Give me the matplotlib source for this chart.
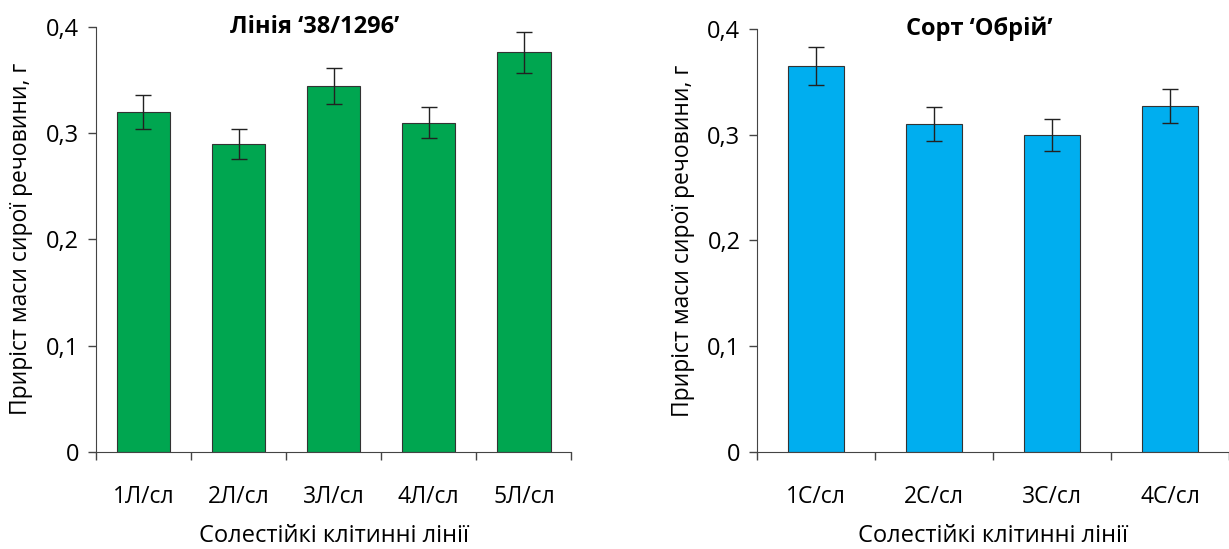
import matplotlib.pyplot as plt
import numpy as np

plt.rcParams['font.family'] = ['Open Sans', 'DejaVu Sans']

# data
lines_l = ['1Л/сл', '2Л/сл', '3Л/сл', '4Л/сл', '5Л/сл']
mass_l = [0.320, 0.290, 0.344, 0.310, 0.376]
err_l = [0.016, 0.014, 0.017, 0.015, 0.019]

lines_s = ['1С/сл', '2С/сл', '3С/сл', '4С/сл']
mass_s = [0.365, 0.310, 0.300, 0.327]
err_s = [0.018, 0.016, 0.015, 0.016]

yticks = [0, 0.1, 0.2, 0.3, 0.4]
ytick_labels = ['0', '0,1', '0,2', '0,3', '0,4']

fig = plt.figure(figsize=(12.29, 5.49), dpi=100)


def draw(ax, labels, vals, errs, color, width, title, title_x):
    x = np.arange(len(labels))
    ax.bar(x, vals, width=width, color=color, edgecolor='#333333', linewidth=0.8, zorder=2)
    ax.errorbar(x, vals, yerr=errs, fmt='none', ecolor='#222222', elinewidth=1,
                capsize=6, capthick=1, zorder=3)
    ax.set_xlim(-0.5, len(labels) - 0.5)
    ax.set_ylim(0, 0.4)
    ax.set_yticks(yticks)
    ax.set_yticklabels(ytick_labels, fontsize=17)
    ax.set_xticks(x)
    ax.set_xticklabels(labels, fontsize=16.5)
    ax.tick_params(axis='x', length=0, pad=24)
    ax.set_xticks(np.arange(len(labels) + 1) - 0.5, minor=True)
    ax.tick_params(axis='x', which='minor', length=6, width=1, color='#444444')
    ax.tick_params(axis='y', length=6, width=1, color='#444444', pad=6)
    for s in ['top', 'right']:
        ax.spines[s].set_visible(False)
    for s in ['left', 'bottom']:
        ax.spines[s].set_color('#444444')
    ax.set_ylabel('Приріст маси сирої речовини, г', fontsize=16.5, labelpad=9)
    ax.set_xlabel('Солестійкі клітинні лінії', fontsize=17, labelpad=11)
    ax.text(title_x, 1.0, title, transform=ax.transAxes, ha='center', va='center',
            fontsize=17, fontweight='bold')


ax1 = fig.add_axes([0.078, 0.177, 0.387, 0.774])
draw(ax1, lines_l, mass_l, err_l, '#00A650', 0.56, 'Лінія ‘38/1296’', 0.46)

ax2 = fig.add_axes([0.616, 0.177, 0.384, 0.770])
draw(ax2, lines_s, mass_s, err_s, '#00AEEF', 0.48, 'Сорт ‘Обрій’', 0.47)

plt.savefig('out.png', dpi=100)
